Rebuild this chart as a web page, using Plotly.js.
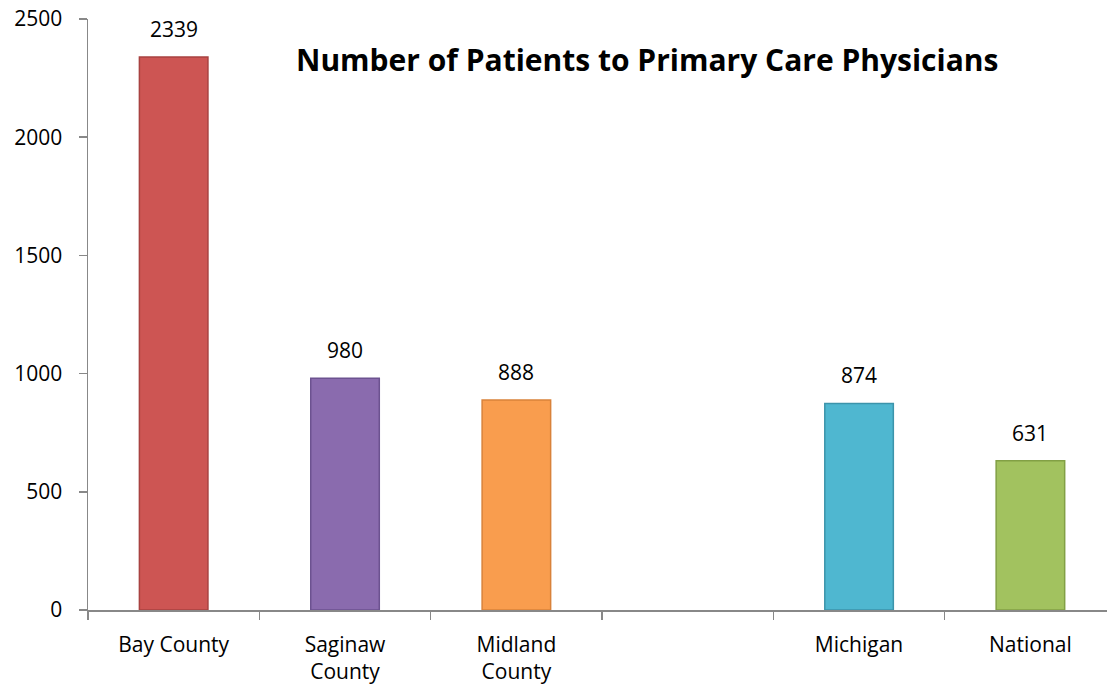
<!DOCTYPE html>
<html>
<head>
<meta charset="utf-8">
<script src="https://cdn.plot.ly/plotly-3.0.1.min.js"></script>
<style>html,body{margin:0;padding:0;background:#fff;}#chart{width:1107px;height:689px;}</style>
</head>
<body>
<div id="chart"></div>
<script>
const categories = ["Bay County", "Saginaw<br>County", "Midland<br>County", " ", "Michigan", "National"];
const values = [2339, 980, 888, null, 874, 631];
const labels = ["2339", "980", "888", "", "874", "631"];
const fillColors = ["#CD5553", "#8A6BAE", "#F99D4E", "#ffffff", "#4FB7D0", "#A2C25F"];
const edgeColors = ["#A84240", "#6C5290", "#D9823A", "#ffffff", "#3C94AB", "#82A045"];
const yTicks = [0, 500, 1000, 1500, 2000, 2500];

const FONT = "Open Sans, sans-serif";

const trace = {
  type: "bar",
  x: categories,
  y: values,
  width: 0.4,
  marker: {color: fillColors, line: {color: edgeColors, width: 1.5}},
  hoverinfo: "none"
};

const valueAnnotations = categories.map((c, i) => values[i] == null ? null : ({
  x: c, y: values[i], xref: "x", yref: "y",
  text: labels[i], showarrow: false,
  xanchor: "center", yanchor: "bottom", yshift: 12,
  font: {family: FONT, size: 21, color: "#000"}
})).filter(a => a);

const layout = {
  width: 1107, height: 689,
  margin: {l: 88, r: 0, t: 19, b: 79},
  paper_bgcolor: "#fff", plot_bgcolor: "#fff",
  showlegend: false,
  font: {family: FONT, size: 21, color: "#000"},
  xaxis: {
    type: "category",
    categoryorder: "array", categoryarray: categories,
    range: [-0.5, 5.447],
    showline: true, linecolor: "#888", linewidth: 1.5,
    ticks: "outside", tickson: "boundaries", ticklen: 8, tickcolor: "#888", tickwidth: 1.5,
    showgrid: false, zeroline: false,
    ticklabelstandoff: 15,
    tickfont: {family: FONT, size: 21, color: "#000"}
  },
  yaxis: {
    range: [0, 2500],
    tickvals: yTicks,
    ticktext: yTicks.map(String),
    showline: true, linecolor: "#888", linewidth: 1.5,
    ticks: "outside", ticklen: 8, tickcolor: "#888", tickwidth: 1.5,
    showgrid: false, zeroline: false,
    ticklabelstandoff: 12,
    tickfont: {family: FONT, size: 21, color: "#000"}
  },
  annotations: valueAnnotations.concat([{
    text: "<b>Number of Patients to Primary Care Physicians</b>",
    xref: "paper", yref: "paper",
    x: 0.549, y: 0.932, xanchor: "center", yanchor: "middle",
    showarrow: false,
    font: {family: FONT, size: 30, color: "#000"}
  }])
};

Plotly.newPlot("chart", [trace], layout, {displayModeBar: false, staticPlot: true});
</script>
</body>
</html>
